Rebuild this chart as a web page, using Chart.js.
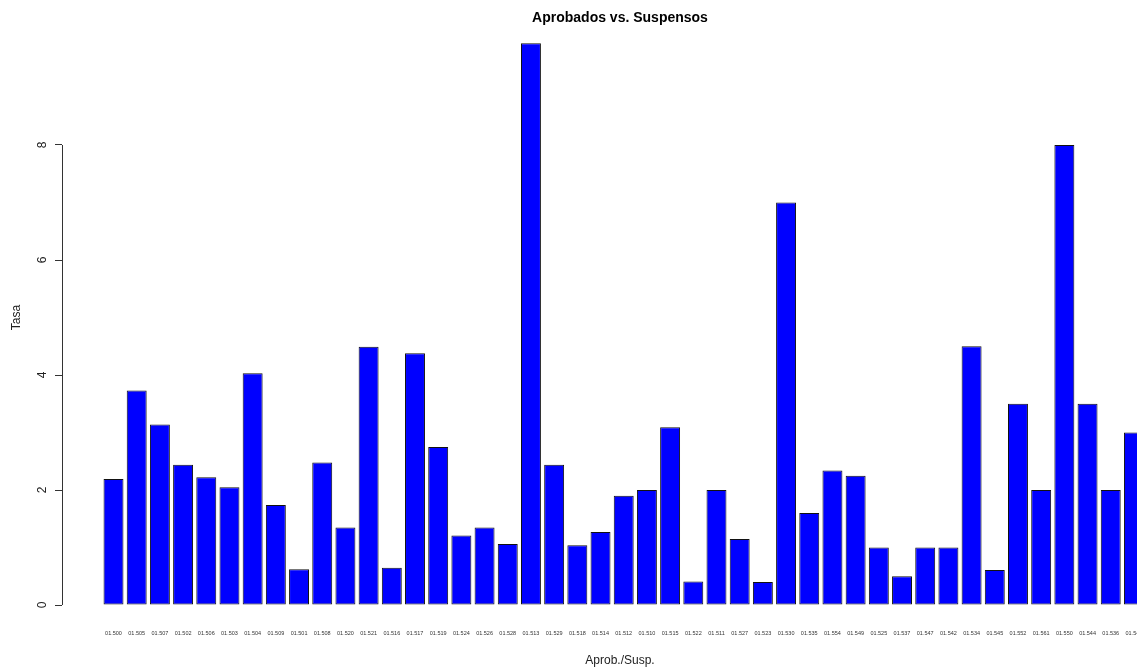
<!DOCTYPE html>
<html>
<head>
<meta charset="utf-8">
<script src="https://cdn.jsdelivr.net/npm/chart.js@4/dist/chart.umd.min.js"></script>
<style>
  html, body { margin: 0; padding: 0; background: #ffffff; overflow: hidden; width: 1137px; height: 668px; }
  #wrap { position: absolute; left: 0; top: 0; width: 1180px; height: 668px; }
  canvas { display: block; }
</style>
</head>
<body>
<div id="wrap"><canvas id="c" width="1180" height="668"></canvas></div>
<script>
const categories = ["01.500","01.505","01.507","01.502","01.506","01.503","01.504","01.509","01.501","01.508",
  "01.520","01.521","01.516","01.517","01.519","01.524","01.526","01.528","01.513","01.529",
  "01.518","01.514","01.512","01.510","01.515","01.522","01.511","01.527","01.523","01.530",
  "01.535","01.554","01.549","01.525","01.537","01.547","01.542","01.534","01.545","01.552",
  "01.561","01.550","01.544","01.536","01.546"];
const tasa = [2.19,3.73,3.14,2.44,2.22,2.05,4.03,1.74,0.62,2.48,
  1.35,4.49,0.65,4.38,2.75,1.21,1.35,1.06,9.77,2.44,
  1.04,1.27,1.90,2.00,3.09,0.41,2.00,1.15,0.40,7.00,
  1.60,2.34,2.25,1.00,0.50,1.00,1.00,4.50,0.61,3.50,
  2.00,8.00,3.50,2.00,3.00];
const yTicks = [0,2,4,6,8];

const FONT = "'Liberation Sans', Arial, Helvetica, sans-serif";

const axisLine = {
  id: 'axisLine',
  afterDraw(chart) {
    const y = chart.scales.y, ctx = chart.ctx;
    const x = Math.round(chart.chartArea.left) + 0.5;
    ctx.save();
    ctx.strokeStyle = '#333333';
    ctx.lineWidth = 1;
    ctx.beginPath();
    ctx.moveTo(x, y.getPixelForValue(yTicks[0]));
    ctx.lineTo(x, y.getPixelForValue(yTicks[yTicks.length - 1]));
    ctx.stroke();
    ctx.restore();
  }
};

new Chart(document.getElementById('c'), {
  type: 'bar',
  data: {
    datasets: [{
      data: categories.map((c, i) => ({ x: i, y: tasa[i] })),
      backgroundColor: '#0000FF',
      borderColor: '#111111',
      borderWidth: 1,
      borderSkipped: false,
      categoryPercentage: 1,
      barPercentage: 0.86
    }]
  },
  options: {
    responsive: false,
    animation: false,
    layout: { padding: { left: 0, right: 2, top: 0, bottom: 0 } },
    plugins: {
      legend: { display: false },
      tooltip: { enabled: false },
      title: {
        display: true,
        text: 'Aprobados vs. Suspensos',
        fullSize: false,
        color: '#000000',
        font: { family: FONT, size: 14, weight: 'bold' },
        padding: { top: 10, bottom: 3.2 }
      }
    },
    scales: {
      x: {
        type: 'linear',
        offset: false,
        min: -2.221,
        max: 45.9,
        grid: { display: false, offset: false },
        border: { display: false },
        afterBuildTicks: s => { s.ticks = categories.map((c, i) => ({ value: i })); },
        afterFit: s => { s.height = 63; },
        ticks: {
          autoSkip: false,
          maxRotation: 0,
          minRotation: 0,
          padding: 17,
          color: '#333333',
          font: { family: FONT, size: 5.5 },
          callback: v => categories[v]
        },
        title: {
          display: true,
          text: 'Aprob./Susp.',
          color: '#222222',
          font: { family: FONT, size: 12 },
          padding: { top: 0, bottom: 0 }
        }
      },
      y: {
        min: 0,
        max: 10,
        afterBuildTicks: s => { s.ticks = yTicks.map(v => ({ value: v })); },
        afterFit: s => { s.width = 62; },
        grid: { display: true, drawOnChartArea: false, drawTicks: true, tickLength: 7, color: '#333333' },
        border: { display: false },
        ticks: {
          minRotation: 90,
          maxRotation: 90,
          crossAlign: 'center',
          padding: 8.5,
          color: '#222222',
          font: { family: FONT, size: 12 },
          callback: v => String(v)
        },
        title: {
          display: true,
          text: 'Tasa',
          color: '#222222',
          font: { family: FONT, size: 12 },
          padding: 9
        }
      }
    }
  },
  plugins: [axisLine]
});
</script>
</body>
</html>
